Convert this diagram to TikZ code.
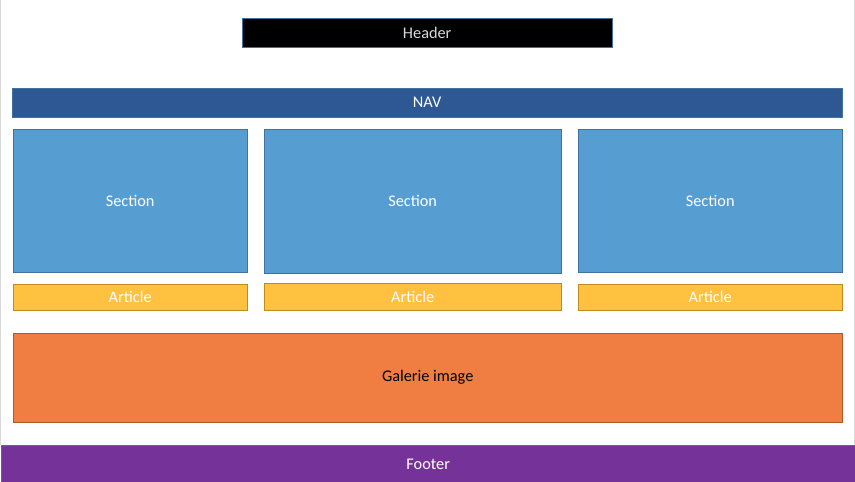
\documentclass[tikz,border=0pt]{standalone}
\usepackage{fontspec}
\setmainfont{Carlito}
\usetikzlibrary{positioning}
\definecolor{navblue}{HTML}{2E5894}
\definecolor{secblue}{HTML}{569DD2}
\definecolor{secline}{HTML}{41719C}
\definecolor{artyellow}{HTML}{FFC13F}
\definecolor{artline}{HTML}{BC8C1E}
\definecolor{galorange}{HTML}{F07E42}
\definecolor{galline}{HTML}{AE5A21}
\definecolor{footpurple}{HTML}{753399}
\definecolor{footline}{HTML}{41719C}

\begin{document}
\begin{tikzpicture}[x=1pt,y=-1pt,
  every node/.style={draw,rectangle,anchor=north west,inner sep=0pt,
    font=\fontsize{16.3}{18}\selectfont},
  headbox/.style={fill=black,draw=secline,text=white!85!black},
  navbox/.style={fill=navblue,draw=secline,text=white},
  secbox/.style={fill=secblue,draw=secline,text=white},
  artbox/.style={fill=artyellow,draw=artline,text=white},
  galbox/.style={fill=galorange,draw=galline,text=black},
  footbox/.style={fill=footpurple,draw=footline,text=white}
]
\useasboundingbox (0,0) rectangle (855,482);
\draw[black!15,line width=1.5pt] (0.5,0) -- (0.5,445) (854.5,0) -- (854.5,445);
% header and menu
\node[headbox,minimum width=370pt,minimum height=29pt] (header) at (242,18) {Header};
\node[navbox,minimum width=830pt,minimum height=29pt] (nav) at (12,88) {NAV};
% sections
\node[secbox,minimum width=234pt,minimum height=143pt] (sec1) at (13,129) {Section};
\node[secbox,minimum width=297pt,minimum height=144pt] (sec2) at (264,129) {Section};
\node[secbox,minimum width=264pt,minimum height=143pt] (sec3) at (578,129) {Section};
% articles
\node[artbox,minimum width=234pt,minimum height=26pt] (art1) at (13,284) {Article};
\node[artbox,minimum width=297pt,minimum height=27pt] (art2) at (264,283) {Article};
\node[artbox,minimum width=264pt,minimum height=26pt] (art3) at (578,284) {Article};
% gallery and footer
\node[galbox,minimum width=829pt,minimum height=89pt] (gal) at (13,333) {Galerie image};
\node[footbox,minimum width=855pt,minimum height=38pt] (footer) at (0.5,445) {Footer};
\end{tikzpicture}
\end{document}
